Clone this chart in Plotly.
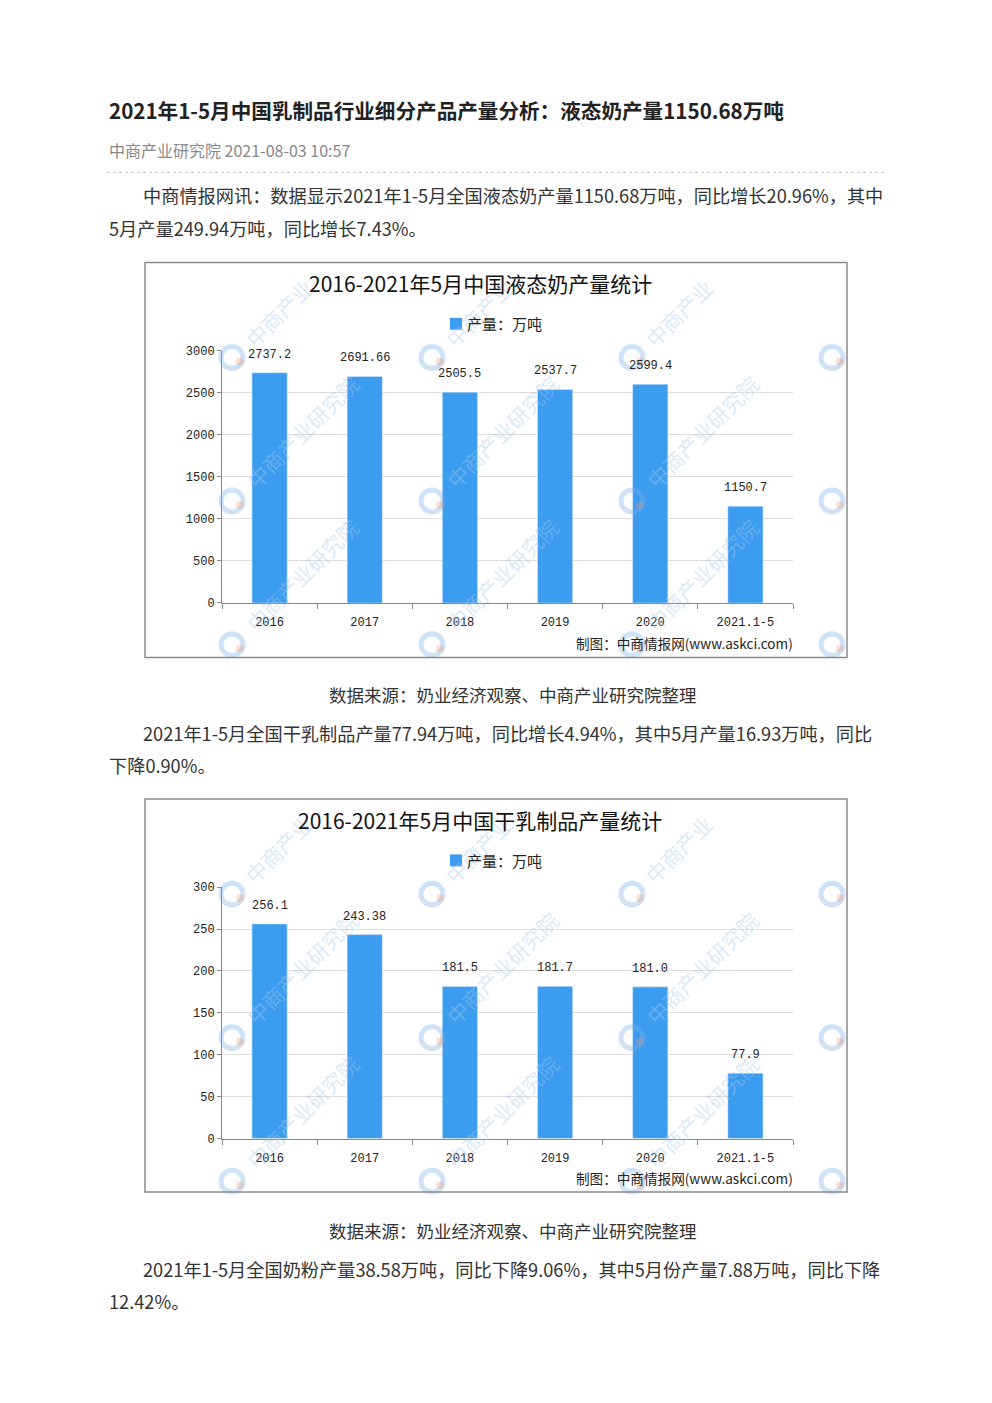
import plotly.graph_objects as go

W, H = 992, 1403

categories = ["2016", "2017", "2018", "2019", "2020", "2021.1-5"]
liquid_milk = [2737.2, 2691.66, 2505.5, 2537.7, 2599.4, 1150.7]
liquid_labels = ["2737.2", "2691.66", "2505.5", "2537.7", "2599.4", "1150.7"]
dry_dairy = [256.1, 243.38, 181.5, 181.7, 181.0, 77.9]
dry_labels = ["256.1", "243.38", "181.5", "181.7", "181.0", "77.9"]

page_title = "2021年1-5月中国乳制品行业细分产品产量分析：液态奶产量1150.68万吨"
meta = "中商产业研究院 2021-08-03 10:57"
para1 = ["中商情报网讯：数据显示2021年1-5月全国液态奶产量1150.68万吨，同比增长20.96%，其中",
         "5月产量249.94万吨，同比增长7.43%。"]
para2 = ["2021年1-5月全国干乳制品产量77.94万吨，同比增长4.94%，其中5月产量16.93万吨，同比",
         "下降0.90%。"]
para3 = ["2021年1-5月全国奶粉产量38.58万吨，同比下降9.06%，其中5月份产量7.88万吨，同比下降",
         "12.42%。"]
source = "数据来源：奶业经济观察、中商产业研究院整理"
chart1_title = "2016-2021年5月中国液态奶产量统计"
chart2_title = "2016-2021年5月中国干乳制品产量统计"
legend_name = "产量：万吨"
credit = "制图：中商情报网(www.askci.com)"
watermark = "中商产业研究院"

BLUE = "#3b9cf0"
CJK = "Noto Sans CJK SC"
MONO = "Liberation Mono"


def X(px):
    return px / W


def Y(py):
    return 1 - py / H


fig = go.Figure()

fig.add_trace(go.Bar(x=categories, y=liquid_milk, marker_color=BLUE, name=legend_name,
                     xaxis="x", yaxis="y", hoverinfo="skip", showlegend=False))
fig.add_trace(go.Bar(x=categories, y=dry_dairy, marker_color=BLUE, name=legend_name,
                     xaxis="x2", yaxis="y2", hoverinfo="skip", showlegend=False))

ann = []
shapes = []


def text(px, py, s, size=17, color="#333", family=CJK, xanchor="left", bold=False):
    ann.append(dict(x=X(px), y=Y(py), xref="paper", yref="paper", text=("<b>%s</b>" % s) if bold else s,
                    showarrow=False, xanchor=xanchor, yanchor="middle",
                    font=dict(size=size, color=color, family=family)))


text(107, 105, page_title, size=20.6, color="#222", bold=True)
text(107, 145, meta, size=16, color="#888")
shapes.append(dict(type="line", xref="paper", yref="paper", x0=X(107), x1=X(885), y0=Y(168), y1=Y(168),
                   line=dict(color="#cccccc", width=1.2, dash="dot")))
text(141, 191, para1[0], size=18.2)
text(107, 224, para1[1], size=18.2)
text(513, 695, source, size=17.5, xanchor="center")
text(141, 734, para2[0], size=18.2)
text(107, 767, para2[1], size=18.2)
text(513, 1237, source, size=17.5, xanchor="center")
text(141, 1276, para3[0], size=18.2)
text(107, 1308, para3[1], size=18.2)

WM_COLOR = "rgba(165,200,235,0.42)"


def watermarks(top):
    # logo rings and diagonal watermark texts
    for j, ly in enumerate((96, 241, 386)):
        for lx in (232, 432, 632, 832):
            y = top + ly
            shapes.append(dict(type="circle", xref="paper", yref="paper", x0=X(lx - 11), x1=X(lx + 11),
                               y0=Y(y + 11), y1=Y(y - 11), line=dict(color="rgba(120,175,230,0.35)", width=5),
                               layer="above"))
            shapes.append(dict(type="circle", xref="paper", yref="paper", x0=X(lx + 4), x1=X(lx + 12),
                               y0=Y(y + 8), y1=Y(y), fillcolor="rgba(240,150,110,0.3)",
                               line=dict(width=0), layer="above"))
            if lx == 832:
                continue
            if j == 0:
                ann.append(dict(x=X(lx + 47), y=Y(y - 45), xref="paper", yref="paper", text="中商产业",
                                showarrow=False, textangle=-45, xanchor="center", yanchor="middle",
                                font=dict(size=21, color=WM_COLOR, family=CJK)))
            else:
                ann.append(dict(x=X(lx + 70), y=Y(y - 70), xref="paper", yref="paper", text=watermark,
                                showarrow=False, textangle=-45, xanchor="center", yanchor="middle",
                                font=dict(size=21, color=WM_COLOR, family=CJK)))


watermarks(259)
watermarks(801)


def chart(top, bottom, title, xa, ya, vals, labels, credit_y):
    shapes.append(dict(type="rect", xref="paper", yref="paper", x0=X(145), x1=X(847), y0=Y(bottom), y1=Y(top),
                       line=dict(color="#8a8a8a", width=1.5), layer="above"))
    text(480, top + 21, title, size=21, color="#111", xanchor="center")
    text(795, credit_y, credit, size=13.6, color="#222", xanchor="right")
    # legend
    shapes.append(dict(type="rect", xref="paper", yref="paper", x0=X(450), x1=X(462),
                       y0=Y(top + 68), y1=Y(top + 56), fillcolor=BLUE, line=dict(width=0)))
    text(465, top + 62, legend_name, size=15, color="#222")
    for i, (v, l) in enumerate(zip(vals, labels)):
        ann.append(dict(x=i, y=v, xref=xa, yref=ya, text=l, showarrow=False, yshift=18,
                        yanchor="middle", font=dict(size=12, color="#222", family=MONO)))


chart(259, 658, chart1_title, "x", "y", liquid_milk, liquid_labels, 643)
chart(801, 1198, chart2_title, "x2", "y2", dry_dairy, dry_labels, 1184)

xa_common = dict(type="category", tickson="boundaries", ticks="outside", ticklen=5, tickcolor="#888",
                 showline=True, linecolor="#888", linewidth=1, showgrid=False, range=[-0.5, 5.5],
                 tickangle=0, tickfont=dict(size=12, color="#222", family=MONO), ticklabelstandoff=8,
                 domain=[X(222), X(793)], fixedrange=True)
ya_common = dict(showline=True, linecolor="#888", linewidth=1, ticks="outside", ticklen=4, tickcolor="#888",
                 gridcolor="#dddddd", gridwidth=1, zeroline=False,
                 tickfont=dict(size=12, color="#222", family=MONO), fixedrange=True)

fig.update_layout(
    width=W, height=H, margin=dict(l=0, r=0, t=0, b=0),
    paper_bgcolor="white", plot_bgcolor="rgba(0,0,0,0)",
    bargap=0.63, showlegend=False,
    xaxis=dict(**xa_common, anchor="y"),
    yaxis=dict(**ya_common, anchor="x", range=[0, 3000], dtick=500, domain=[Y(603), Y(348)]),
    xaxis2=dict(**xa_common, anchor="y2"),
    yaxis2=dict(**ya_common, anchor="x2", range=[0, 300], dtick=50, domain=[Y(1144), Y(890)]),
    annotations=ann, shapes=shapes,
)

fig.write_html("out.html")
